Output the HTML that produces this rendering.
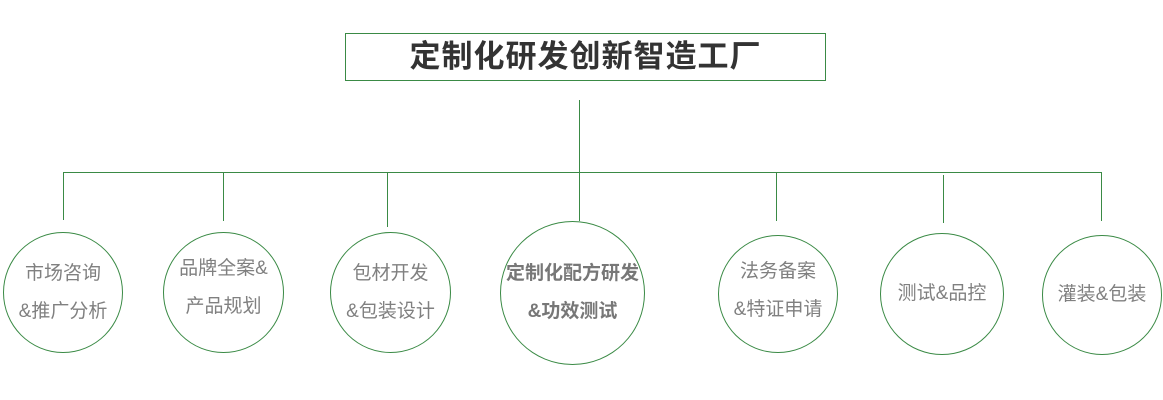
<!DOCTYPE html>
<html><head><meta charset="utf-8"><style>
body{margin:0;background:#fff;width:1163px;height:400px;overflow:hidden;position:relative;font-family:"Liberation Sans","Noto Sans CJK SC",sans-serif}
.l{position:absolute;background:#3a8a45}
.c{position:absolute;border:1.5px solid #3a8a45;border-radius:50%;box-sizing:border-box;display:flex;flex-direction:column;align-items:center;justify-content:center;color:#808080;font-size:19px;line-height:38px;text-align:center}
</style></head><body>
<div style="position:absolute;left:345px;top:33px;width:481px;height:48px;border:1px solid #3a8a45;box-sizing:border-box;text-align:center;line-height:46px;font-size:31px;font-weight:bold;color:#333;letter-spacing:1px">定制化研发创新智造工厂</div>
<div class="l" style="left:579px;top:100px;width:1px;height:121px"></div>
<div class="l" style="left:63px;top:172px;width:1039px;height:1px"></div>
<div class="l" style="left:63px;top:172px;width:1px;height:48px"></div>
<div class="l" style="left:223px;top:172px;width:1px;height:49px"></div>
<div class="l" style="left:387px;top:172px;width:1px;height:55px"></div>
<div class="l" style="left:776px;top:172px;width:1px;height:49px"></div>
<div class="l" style="left:943px;top:175px;width:1px;height:48px"></div>
<div class="l" style="left:1101px;top:172px;width:1px;height:49px"></div>
<div class="c" style="left:3px;top:232px;width:120px;height:121px"><div>市场咨询</div><div>&amp;推广分析</div></div>
<div class="c" style="left:163px;top:232px;width:121px;height:121px"><div style="margin-top:-10px">品牌全案&amp;</div><div>产品规划</div></div>
<div class="c" style="left:330px;top:232px;width:121px;height:121px"><div>包材开发</div><div>&amp;包装设计</div></div>
<div class="c" style="left:500px;top:221px;width:145px;height:144px;font-weight:bold;color:#777"><div>定制化配方研发</div><div>&amp;功效测试</div></div>
<div class="c" style="left:718px;top:235px;width:120px;height:118px"><div style="margin-top:-6px">法务备案</div><div>&amp;特证申请</div></div>
<div class="c" style="left:880px;top:233px;width:124px;height:122px"><div>测试&amp;品控</div></div>
<div class="c" style="left:1042px;top:235px;width:120px;height:120px"><div>灌装&amp;包装</div></div>
</body></html>
